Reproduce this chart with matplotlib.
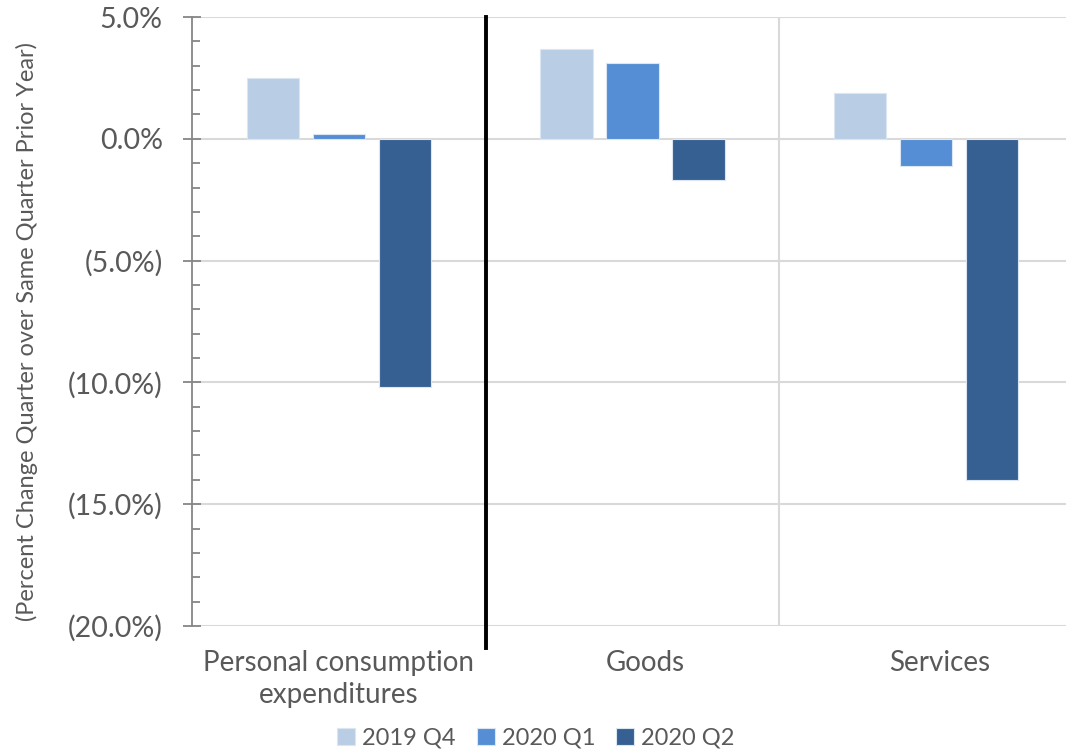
import matplotlib
matplotlib.use("Agg")
import matplotlib.pyplot as plt
import matplotlib.transforms as mtransforms
import numpy as np
from matplotlib.ticker import FuncFormatter, MultipleLocator

'''
Real PCE change by category, quarter over same quarter prior year
'''

# Categories and series
categories = ["Personal consumption\nexpenditures", "Goods", "Services"]
series_names = ["2019 Q4", "2020 Q1", "2020 Q2"]
q4_2019 = [2.5, 3.7, 1.9]
q1_2020 = [0.2, 3.1, -1.1]
q2_2020 = [-10.2, -1.7, -14.0]

colors = ["#B9CDE5", "#558ED5", "#366092"]
text_color = "#595959"

plt.rcParams["font.family"] = ["Lato", "DejaVu Sans"]

fig = plt.figure(figsize=(10.66, 7.52), dpi=100)
ax = fig.add_axes([192 / 1066, 1 - 626 / 752, (1073 - 192) / 1066, (626 - 17) / 752])

x = np.arange(len(categories))
offset = 0.225
width = 0.178
for i, vals in enumerate([q4_2019, q1_2020, q2_2020]):
    ax.bar(x + (i - 1) * offset, vals, width, color=colors[i], edgecolor="#DCE6F2",
           linewidth=0.8, label=series_names[i], zorder=3)

# Axis limits and ticks
ax.set_xlim(-0.5, 2.5)
ax.set_ylim(-20, 5)
ax.yaxis.set_major_locator(MultipleLocator(5))
ax.yaxis.set_minor_locator(MultipleLocator(1))

def pct(v, pos):
    if v < -1e-9:
        return "({:.1f}%)".format(-v)
    return "{:.1f}%".format(abs(v))

ax.yaxis.set_major_formatter(FuncFormatter(pct))
ax.tick_params(axis="y", which="major", direction="inout", length=13, width=1.3,
               color="#868686", labelsize=20.5, labelcolor=text_color, pad=14.5)
ax.tick_params(axis="y", which="minor", direction="in", length=5.8, width=1.3,
               color="#868686")
ax.set_xticks(x)
ax.set_xticklabels(categories, linespacing=1.3)
ax.tick_params(axis="x", length=0, labelsize=20, labelcolor=text_color, pad=17)

# Excel nudges the single-line labels a little to the right
for lbl in ax.get_xticklabels()[1:]:
    lbl.set_transform(lbl.get_transform() +
                      mtransforms.ScaledTranslation(0.13, 0, fig.dpi_scale_trans))

for s in ["top", "right", "bottom"]:
    ax.spines[s].set_visible(False)
ax.spines["left"].set_color("#868686")
ax.spines["left"].set_linewidth(1.3)

# Gridlines
ax.yaxis.grid(True, which="major", color="#D9D9D9", linewidth=1.5, zorder=0)
ax.axvline(1.5, color="#D9D9D9", linewidth=1.5, zorder=0)
ax.plot([0.5, 0.5], [-20.9, 5], color="black", linewidth=2.8, clip_on=False, zorder=4)

ax.set_ylabel("(Percent Change Quarter over Same Quarter Prior Year)", fontsize=17,
              color=text_color)
ax.yaxis.set_label_coords(-0.175, 0.483)

fig.legend(loc="center", bbox_to_anchor=(536 / 1066, 1 - 738 / 752), ncol=3,
           frameon=False, fontsize=17, handlelength=0.75, handleheight=0.75,
           handletextpad=0.3, columnspacing=0.9, labelcolor=text_color)

fig.savefig("out.png", dpi=100)
